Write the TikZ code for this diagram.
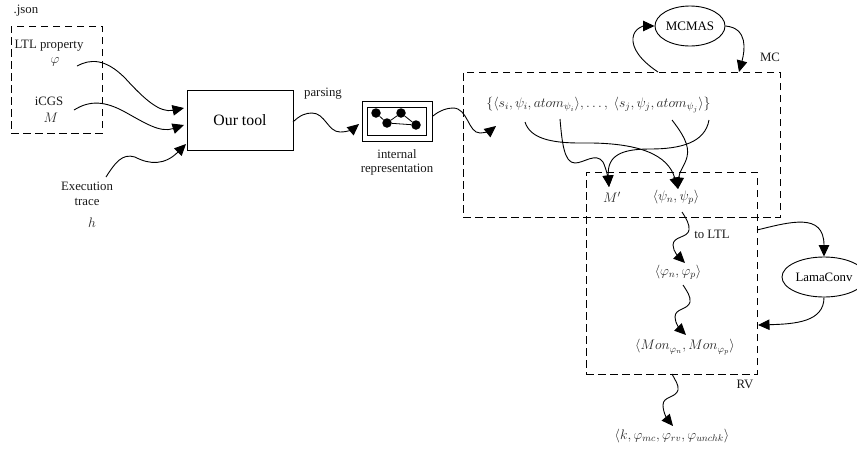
\documentclass[tikz,border=0pt]{standalone}
\usepackage{fix-cm}
\usepackage{fontspec}
\setmainfont{Liberation Serif}
\usetikzlibrary{shapes.geometric,arrows.meta}
\tikzset{
  txt/.style={inner sep=0pt,font=\fontsize{12.8}{14}\selectfont,text=black!90},
  mth/.style={inner sep=0pt,font=\fontsize{13.8}{15}\selectfont,text=black!85},
  box/.style={draw,line width=0.9pt,inner sep=0pt},
  dashbox/.style={draw,line width=0.9pt,inner sep=0pt,dash pattern=on 7.5pt off 4.5pt},
  oval/.style={draw,ellipse,line width=0.9pt,inner sep=0pt},
  flow/.style={line width=0.9pt,-{Triangle[length=11.5pt,width=10.5pt]}},
  dot/.style={circle,fill=black,inner sep=0pt,minimum size=9.5pt},
  link/.style={line width=0.8pt}
}
\begin{document}
\begin{tikzpicture}[x=1pt,y=-1pt]
\useasboundingbox (0,0) rectangle (857,448);
% boxes
\node[dashbox,minimum width=91pt,minimum height=107pt] (json) at (56.5,79.5) {};
\node[dashbox,minimum width=317pt,minimum height=145pt] (mc) at (621.5,144.5) {};
\node[dashbox,minimum width=171pt,minimum height=202pt] (rv) at (671.5,273) {};
\node[box,minimum width=106pt,minimum height=60pt] (tool) at (240,120) {\fontsize{15.8}{18}\selectfont Our tool};
\node[box,minimum width=70pt,minimum height=40pt] (rep) at (397,121) {};
\node[box,minimum width=59pt,minimum height=28pt] (repin) at (396.5,121) {};
\node[dot] (d1) at (376,113) {};
\node[dot] (d2) at (387,123) {};
\node[dot] (d3) at (401,113) {};
\node[dot] (d4) at (416,125) {};
\draw[link] (d1) -- (d2);
\draw[link] (d2) -- (d3);
\draw[link] (d3) -- (d4);
\draw[link] (d2) -- (d4);
\node[oval,minimum width=70pt,minimum height=40pt] (mcmas) at (690,26) {\fontsize{13}{14}\selectfont MCMAS};
\node[oval,minimum width=84pt,minimum height=40pt] (lama) at (824,277) {\fontsize{12.8}{14}\selectfont LamaConv};
% labels
\node[txt] (jsonl) at (26,11) {.json};
\node[txt] (ltl) at (49,46) {LTL property};
\node[mth] (phi) at (55,62) {$\varphi$};
\node[txt] (icgs) at (49,101) {iCGS};
\node[mth] (m) at (51,118) {$M$};
\node[txt] (exec) at (87,186) {Execution};
\node[txt] (trace) at (87,202) {trace};
\node[mth] (h) at (92,223) {$h$};
\node[txt] (parsing) at (323,94) {parsing};
\node[txt] (int) at (397,154) {internal};
\node[txt] (repr) at (397,170) {representation};
\node[mth] (tuple) at (598.5,105) {$\{\langle s_i,\psi_i,atom_{\psi_i}\rangle,\ldots,\ \langle s_j,\psi_j,atom_{\psi_j}\rangle\}$};
\node[txt] (mcl) at (770,57) {MC};
\node[mth] (mp) at (612,197) {$M'$};
\node[mth] (psi) at (676,197) {$\langle\psi_n,\psi_p\rangle$};
\node[txt] (toltl) at (712,234) {to LTL};
\node[mth] (vp) at (678,272) {$\langle\varphi_n,\varphi_p\rangle$};
\node[mth] (mon) at (685,347) {$\langle Mon_{\varphi_n},Mon_{\varphi_p}\rangle$};
\node[txt] (rvl) at (745,384) {RV};
\node[mth] (res) at (672,436) {$\langle k,\varphi_{mc},\varphi_{rv},\varphi_{unchk}\rangle$};
% ports
\coordinate (phiout) at (77,66);
\coordinate (mout) at (74,110);
\coordinate (execout) at (106,177);
\coordinate (toolinA) at (184,108);
\coordinate (toolinB) at (184,125);
\coordinate (toolinC) at (186,144);
\coordinate (toolout) at (293,122);
\coordinate (repin1) at (359,124);
\coordinate (repout) at (433,116);
\coordinate (tuplein) at (496,126);
\coordinate (mcup) at (658,72);
\coordinate (mcdown) at (739,72);
\coordinate (ta) at (525,122);
\coordinate (tb) at (560,119);
\coordinate (tc) at (709,120);
\coordinate (td) at (672,120);
\coordinate (mpin) at (609,187);
\coordinate (psiin) at (678,189);
\coordinate (psiout) at (682,212);
\coordinate (vpin) at (685,263);
\coordinate (vpout) at (683,285);
\coordinate (monin) at (686,335);
\coordinate (rvout) at (672,374);
\coordinate (resin) at (673,426);
\coordinate (rvr1) at (757,230);
\coordinate (rvr2) at (758,325);
% connectors
\draw[flow] (phiout) .. controls (90,59) and (105,58) .. (125,78) .. controls (145,100) and (160,113) .. (toolinA);
\draw[flow] (mout) .. controls (90,100) and (105,101) .. (125,112) .. controls (145,123) and (160,133) .. (toolinB);
\draw[flow] (execout) .. controls (115,163) and (122,153) .. (135,157) .. controls (150,165) and (165,165) .. (toolinC);
\draw[flow] (toolout) .. controls (300,115) and (306,113) .. (312,113) .. controls (325,113) and (328,132) .. (340,132) .. controls (348,132) and (353,129) .. (repin1);
\draw[flow] (repout) .. controls (440,110) and (448,108) .. (453,108) .. controls (468,108) and (468,133) .. (480,133) .. controls (486,133) and (491,130) .. (tuplein);
\draw[flow] (mcup) .. controls (640,60) and (632,48) .. (633,38) .. controls (634,28) and (644,26) .. (mcmas.west);
\draw[flow] (mcmas.east) .. controls (748,28) and (745,50) .. (mcdown);
\draw[flow] (ta) .. controls (530,138) and (550,143) .. (580,143) .. controls (640,142) and (668,155) .. (psiin);
\draw[flow] (tb) .. controls (562,142) and (564,163) .. (575,163) .. controls (584,163) and (596,152) .. (603,162) .. controls (606,168) and (608,178) .. (mpin);
\draw[flow] (tc) .. controls (705,143) and (680,149) .. (650,149) .. controls (622,149) and (607,155) .. (mpin);
\draw[flow] (td) .. controls (682,133) and (690,145) .. (687,157) .. controls (685,165) and (679,172) .. (psiin);
\draw[flow] (psiout) .. controls (686,218) and (690,225) .. (689,230) .. controls (688,238) and (673,236) .. (673,245) .. controls (673,252) and (680,258) .. (vpin);
\draw[flow] (vpout) .. controls (687,291) and (691,297) .. (690,302) .. controls (688,310) and (675,308) .. (675,317) .. controls (675,324) and (681,330) .. (monin);
\draw[flow] (rvout) .. controls (675,380) and (679,385) .. (678,390) .. controls (676,398) and (663,396) .. (663,405) .. controls (663,413) and (668,420) .. (resin);
\draw[flow] (rvr1) .. controls (790,222) and (824,212) .. (lama.north);
\draw[flow] (lama.south) .. controls (824,322) and (795,324) .. (rvr2);
\end{tikzpicture}
\end{document}
